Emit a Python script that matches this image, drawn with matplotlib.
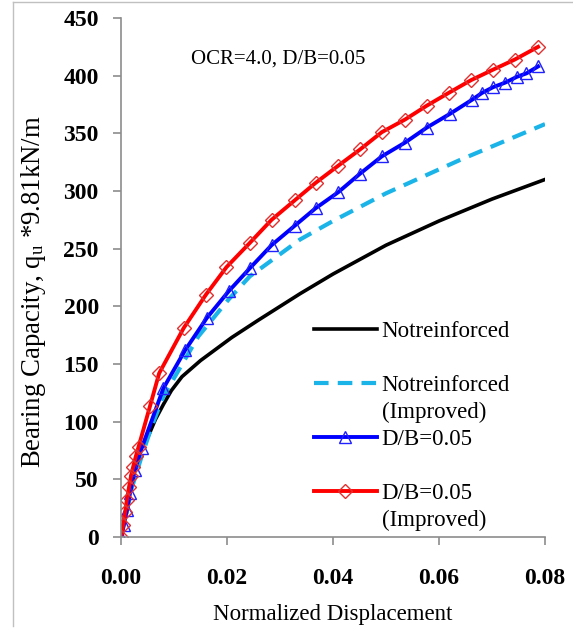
import matplotlib
matplotlib.use('Agg')
import matplotlib.pyplot as plt
from matplotlib.lines import Line2D

plt.rcParams['font.family'] = ['Liberation Serif', 'DejaVu Serif']
plt.rcParams['mathtext.fontset'] = 'custom'
plt.rcParams['mathtext.rm'] = 'Liberation Serif'
plt.rcParams['mathtext.it'] = 'Liberation Serif'

# load-displacement curves (normalized displacement vs q_u)
x_plain = [0, 0.001, 0.002, 0.003, 0.0039, 0.0052, 0.0065, 0.008, 0.0095,
           0.0115, 0.015, 0.0209, 0.0259, 0.0338, 0.040, 0.050, 0.060,
           0.070, 0.080]
q_plain = [0, 25, 50, 70, 78, 88, 102, 115, 127,
           139, 153, 173, 188, 211, 228, 253, 274,
           293, 310]

x_plain_imp = [0, 0.001, 0.002, 0.0039, 0.0058, 0.008, 0.0146, 0.0203,
               0.0243, 0.0338, 0.040, 0.050, 0.064, 0.080]
q_plain_imp = [0, 20, 42, 70, 96, 122, 174, 206,
               226, 258, 274, 298, 327, 358]

x_db = [0, 0.0005, 0.0011, 0.0017, 0.0026, 0.0039, 0.0080, 0.0121, 0.0162,
        0.0203, 0.0243, 0.0284, 0.0328, 0.0367, 0.0410, 0.0451, 0.0492,
        0.0536, 0.0577, 0.0621, 0.0662, 0.0681, 0.0702, 0.0725, 0.0747,
        0.0765, 0.0787]
q_db = [0, 10, 23, 38, 58, 77, 129, 162, 190,
        213, 233, 253, 270, 285, 299, 315, 330,
        342, 355, 367, 379, 385, 390, 394, 399,
        402, 408]

x_db_imp = [0, 0.0004, 0.0008, 0.0011, 0.0015, 0.0019, 0.0023, 0.0028,
            0.0033, 0.0055, 0.0072, 0.0118, 0.0160, 0.0199, 0.0243, 0.0284,
            0.0328, 0.0367, 0.0410, 0.0451, 0.0492, 0.0536, 0.0577, 0.0618,
            0.0660, 0.0701, 0.0743, 0.0787]
q_db_imp = [0, 10, 22, 32, 43, 53, 61, 70,
            78, 114, 142, 181, 210, 234, 255, 275,
            292, 307, 322, 336, 351, 362, 374, 385,
            396, 405, 414, 425]

x_ticks = [0.00, 0.02, 0.04, 0.06, 0.08]
y_ticks = [0, 50, 100, 150, 200, 250, 300, 350, 400, 450]

fig = plt.figure(figsize=(5.73, 6.32), dpi=100)
ax = fig.add_axes([0.2112, 0.1503, 0.7399, 0.8212])

ax.plot(x_plain, q_plain, color='black', lw=2.6, label='Notreinforced')
ax.plot(x_plain_imp, q_plain_imp, color='#1ab4e8', lw=3, ls=(0, (3.5, 2.2)),
        label='Notreinforced')
ax.plot(x_db, q_db, color='#0000ff', lw=2.8, marker='^', ms=8,
        mfc='none', mec='#2020ff', mew=1.0, label='D/B=0.05')
ax.plot(x_db_imp, q_db_imp, color='#ff0000', lw=2.8, marker='D', ms=7,
        mfc='none', mec='#e03030', mew=1.0, label='D/B=0.05')

ax.set_xlim(0, 0.08)
ax.set_ylim(0, 450)
ax.set_xticks(x_ticks)
ax.set_xticklabels([f'{v:.2f}' for v in x_ticks])
ax.set_yticks(y_ticks)

for side in ['top', 'right']:
    ax.spines[side].set_visible(False)
for side in ['left', 'bottom']:
    ax.spines[side].set_color('#8c8c8c')
    ax.spines[side].set_linewidth(1.2)
ax.tick_params(axis='both', direction='out', length=6, width=1.2,
               color='#8c8c8c', labelsize=17)
ax.tick_params(axis='y', pad=10)
ax.tick_params(axis='x', pad=16)
for lbl in ax.get_xticklabels() + ax.get_yticklabels():
    lbl.set_fontweight('bold')

ax.set_xlabel('Normalized Displacement', fontsize=16.5, labelpad=11)
ax.set_ylabel(r'Bearing Capacity, q$_{\mathrm{u}}$ *9.81kN/m', fontsize=19.3)
ax.yaxis.set_label_coords(-0.172, 0.472)

ax.text(0.165, 0.92, 'OCR=4.0, D/B=0.05', transform=ax.transAxes,
        fontsize=15, va='center', ha='left')

# legend: second lines of the "Improved" labels get their own rows
lines = ax.get_lines()
blank = Line2D([], [], linestyle='none')
handles = [lines[0], blank, lines[1], blank, lines[2], blank, lines[3], blank]
labels = ['Notreinforced', ' ', 'Notreinforced', '(Improved)',
          'D/B=0.05', ' ', 'D/B=0.05', '(Improved)']
ax.legend(handles, labels, loc='upper left', bbox_to_anchor=(0.455, 0.416),
          frameon=False, fontsize=16.5, handlelength=2.75, handletextpad=0.2,
          labelspacing=0.26, borderpad=0, numpoints=1, borderaxespad=0)

# thin frame along the top and left edges
fig.add_artist(Line2D([0.0227, 1.0], [0.9975, 0.9975], color='#c0c0c0',
                      lw=1, transform=fig.transFigure))
fig.add_artist(Line2D([0.0227, 0.0227], [0.0095, 0.9975], color='#c0c0c0',
                      lw=1, transform=fig.transFigure))

fig.savefig('out.png', dpi=100)
